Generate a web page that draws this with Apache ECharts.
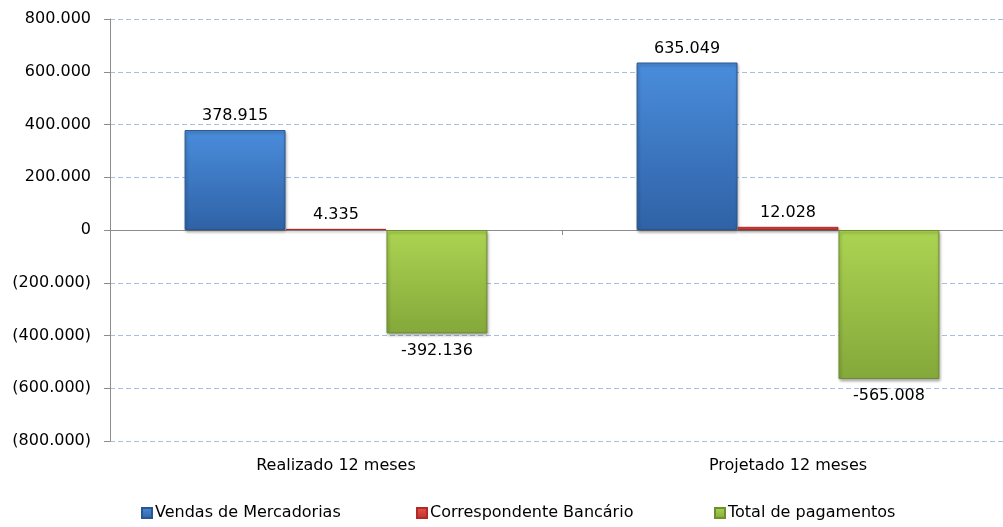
<!DOCTYPE html>
<html><head><meta charset="utf-8">
<script src="https://cdn.jsdelivr.net/npm/echarts@6/dist/echarts.min.js"></script>
<style>html,body{margin:0;padding:0;background:#fff}#c{width:1003px;height:527px}</style>
</head><body><div id="c"></div>
<script>
const categories = ['Realizado 12 meses', 'Projetado 12 meses'];
const seriesNames = ['Vendas de Mercadorias', 'Correspondente Bancário', 'Total de pagamentos'];
const vendas = [378915, 635049];
const correspondente = [4335, 12028];
const pagamentos = [-392136, -565008];
const yMin = -800000, yMax = 800000, yStep = 200000;

const FONT = 'DejaVu Sans';
function fmt(n){ return String(Math.abs(n)).replace(/\B(?=(\d{3})+(?!\d))/g, '.'); }
function lg(c1, c2){ return new echarts.graphic.LinearGradient(0,0,0,1,[{offset:0,color:c1},{offset:1,color:c2}]); }

const styles = [
  {fill: lg('#4a8ddc','#2f62a6'), border:'#2a5690'},
  {fill: lg('#e85450','#c0302c'), border:'#b02a26'},
  {fill: lg('#acd452','#84a83a'), border:'#6f8e2e'}
];
const data = [vendas, correspondente, pagamentos];
const legendLefts = [136, 411, 709];

const chart = echarts.init(document.getElementById('c'));
chart.setOption({
  animation:false,
  textStyle:{fontFamily:FONT},
  grid:{left:110, top:19, width:904, height:422, containLabel:false, outerBoundsMode:'none'},
  xAxis:{type:'category', data:categories,
    axisLine:{onZero:true, lineStyle:{color:'#8c8c8c'}},
    axisTick:{show:true, alignWithLabel:false, length:5, lineStyle:{color:'#8c8c8c'}},
    axisLabel:{color:'#000', fontSize:16, fontFamily:FONT, margin:17}
  },
  yAxis:{type:'value', min:yMin, max:yMax, interval:yStep,
    axisLine:{show:true, lineStyle:{color:'#8c8c8c'}},
    axisTick:{show:true, length:6, lineStyle:{color:'#8c8c8c'}},
    axisLabel:{color:'#000', fontSize:16, fontFamily:FONT, margin:19,
      formatter:v=> v<0 ? '('+fmt(v)+')' : fmt(v)},
    splitLine:{lineStyle:{color:'#a3bfe3', type:[5,3], width:1}}
  },
  legend: seriesNames.map((n,i)=>({
    data:[n], bottom:1, left:legendLefts[i], itemWidth:10, itemHeight:10, icon:'rect',
    textStyle:{color:'#000', fontSize:16, fontFamily:FONT, padding:[0,0,0,-2]}
  })),
  series: seriesNames.map((n,i)=>({
    name:n, type:'bar', data:data[i], barGap:'0%', barCategoryGap:'33%',
    itemStyle:{color:styles[i].fill, borderColor:styles[i].border, borderWidth:1,
      shadowColor:'rgba(0,0,0,0.35)', shadowBlur:3, shadowOffsetX:1, shadowOffsetY:2},
    label:{show:true, position: i===2 ? 'bottom' : 'top', distance: i===2 ? 9 : 6, color:'#000',
      fontSize:16, fontFamily:FONT,
      formatter:p=> (p.value<0?'-':'') + fmt(p.value)}
  }))
});
</script></body></html>
